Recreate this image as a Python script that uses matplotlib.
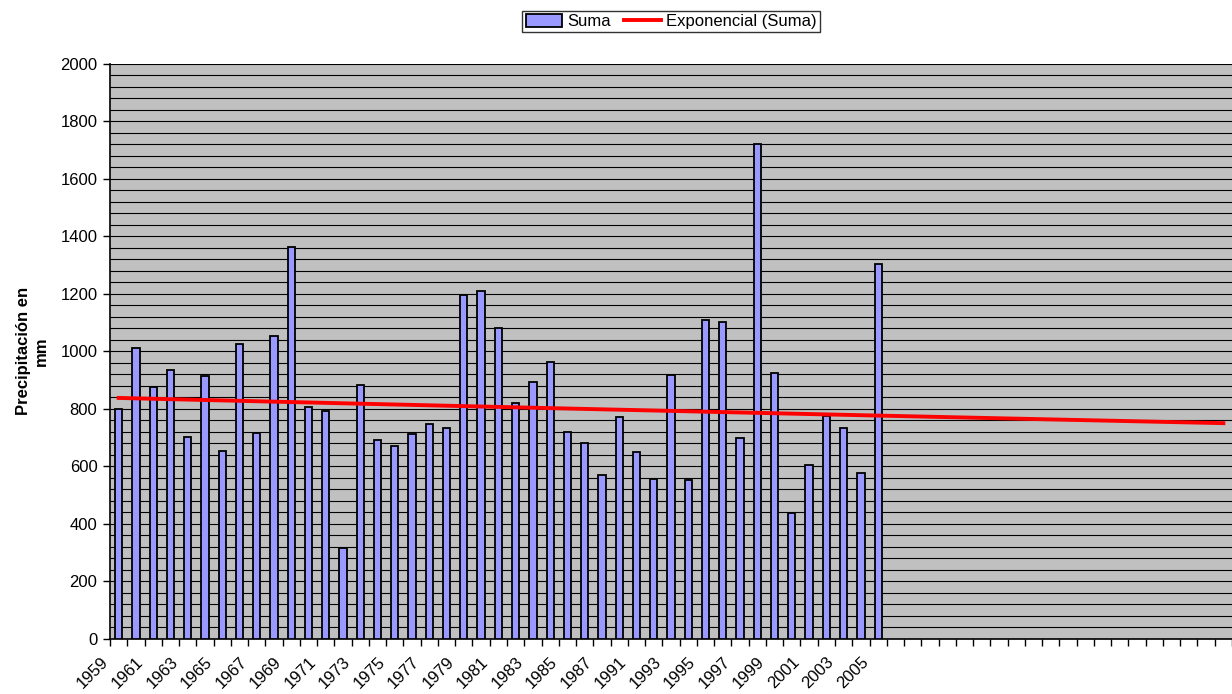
import matplotlib.pyplot as plt
import matplotlib.transforms as mtransforms
import numpy as np

plt.rcParams['font.family'] = ['Liberation Sans', 'DejaVu Sans']

# Years with data (one year between 1987 and 1991 missing in the source series)
years = list(range(1959, 1988)) + [1990] + list(range(1991, 2006))
suma = [800, 1010, 877, 935, 703, 913, 654, 1026, 717, 1053,
        1362, 807, 791, 315, 884, 693, 669, 714, 747, 732,
        1195, 1210, 1080, 820, 895, 964, 719, 682, 570, 771,
        649, 556, 918, 553, 1110, 1102, 697, 1720, 923, 439,
        604, 775, 734, 576, 1303]
n_empty = 20  # empty categories on the right of the axis

n_data = len(suma)
n_cat = n_data + n_empty
x = np.arange(n_data)

# exponential trendline (Excel style, x = 1..n) extended over the empty categories
b, ln_a = np.polyfit(np.arange(1, n_data + 1), np.log(suma), 1)
x_trend = np.arange(1, n_cat + 1)
trend = np.exp(ln_a) * np.exp(b * x_trend)

fig = plt.figure(figsize=(12.32, 6.94), dpi=100)
ax = fig.add_axes([110 / 1232, 1 - 638.7 / 694, 1122 / 1232, (638.7 - 64) / 694])
ax.set_facecolor('#C0C0C0')

bars = ax.bar(x, suma, width=0.42, color='#9999FF', edgecolor='black',
              linewidth=1.3, zorder=3, label='Suma')
line, = ax.plot(x_trend - 1, trend, color='red', lw=2.8, zorder=4,
                label='Exponencial (Suma)')

ax.set_xlim(-0.5, n_cat - 0.5)
ax.set_ylim(0, 2000)

# y axis: labels every 200, gridlines every 40
ax.set_yticks(np.arange(0, 2001, 200))
ax.set_yticks(np.arange(0, 2001, 40), minor=True)
ax.tick_params(axis='y', which='major', direction='out', length=5, width=1,
               labelsize=12, pad=4)
ax.tick_params(axis='y', which='minor', length=0)
ax.grid(axis='y', which='both', color='black', lw=0.8, zorder=1)
ax.set_axisbelow(True)

# x axis: ticks between categories, labels every other year
ax.set_xticks(np.arange(n_cat + 1) - 0.5, minor=True)
ax.tick_params(axis='x', which='minor', direction='out', length=5, width=1)
label_pos = list(range(0, n_data, 2))
ax.set_xticks(label_pos)
ax.set_xticklabels([str(years[i]) for i in label_pos], rotation=45,
                   ha='right', va='top', fontsize=12)
ax.tick_params(axis='x', which='major', length=0, pad=11)
shift = mtransforms.ScaledTranslation(-7 / 100, 0, fig.dpi_scale_trans)
for lab in ax.get_xticklabels():
    lab.set_transform(lab.get_transform() + shift)

for s in ['top', 'right']:
    ax.spines[s].set_visible(False)
for s in ['left', 'bottom']:
    ax.spines[s].set_color('black')
    ax.spines[s].set_linewidth(1.2)

ax.set_ylabel('Precipitación en\nmm', fontsize=12, fontweight='bold',
              labelpad=8, linespacing=1.25)

leg = fig.legend(handles=[bars, line], loc='center',
                 bbox_to_anchor=(671 / 1232, 1 - 21.5 / 694), ncol=2,
                 fontsize=12, frameon=True, fancybox=False, shadow=False,
                 borderpad=0.2, handlelength=2.2, handletextpad=0.3,
                 columnspacing=0.8, handleheight=0.8)
leg.get_frame().set_edgecolor('black')
leg.get_frame().set_linewidth(1.0)

fig.savefig('out.png', dpi=100)
